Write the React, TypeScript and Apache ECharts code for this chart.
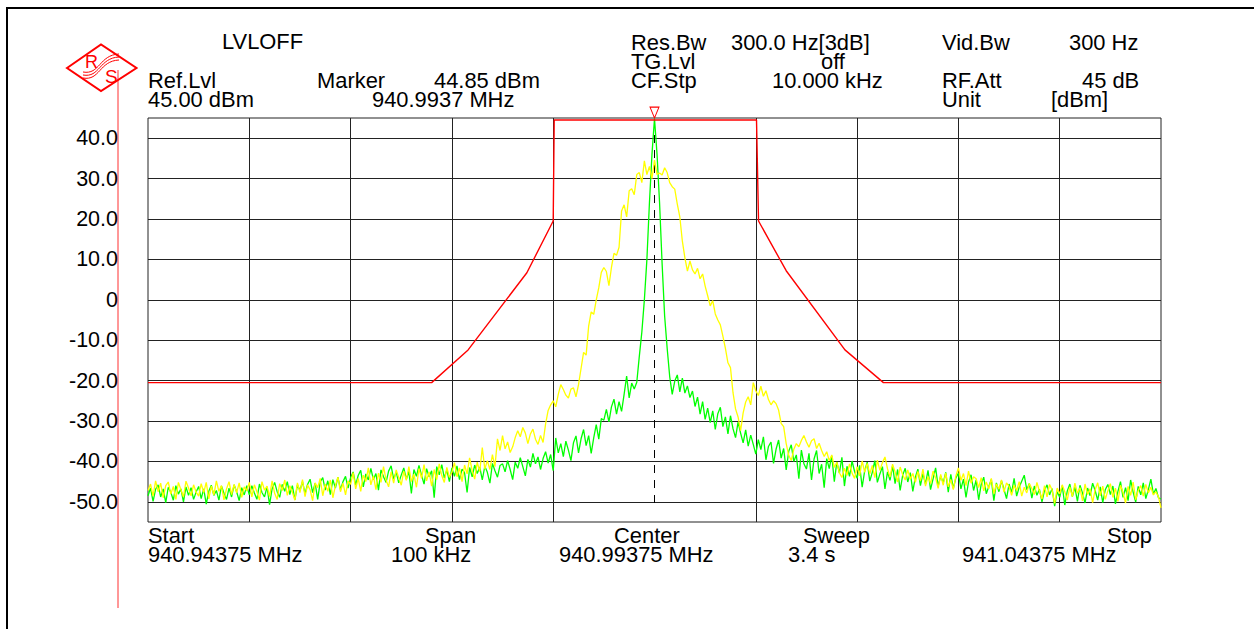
import React, { useEffect, useRef } from "react";
import * as echarts from "echarts";

const FONT = '"Liberation Sans", Arial, sans-serif';

// trace values in dBm, one row per 5 kHz, a sample every 0.25 kHz
const STEP_KHZ = 0.25;
const greenRows = [
  [-48.5,-46.6,-49.9,-46.9,-45.8,-48.8,-46.8,-50.2,-46.4,-47.6,-49.6,-46.0,-48.1,-46.8,-50.0,-46.3,-48.4,-46.5,-49.4,-47.6],
  [-46.2,-49.2,-46.8,-50.6,-47.4,-45.9,-48.4,-47.2,-49.6,-46.1,-47.9,-49.4,-46.6,-48.8,-45.8,-47.5,-49.7,-46.5,-48.3,-46.0],
  [-48.3,-46.0,-47.8,-49.4,-45.6,-47.7,-48.8,-46.3,-50.7,-46.8,-45.2,-47.5,-48.9,-45.7,-47.4,-45.0,-48.2,-46.0,-49.5,-45.8],
  [-47.2,-45.0,-48.0,-45.7,-44.4,-47.7,-45.4,-49.4,-45.1,-44.0,-47.1,-44.8,-48.2,-44.5,-46.6,-43.9,-47.0,-45.0,-43.7,-46.6],
  [-44.0,-42.6,-45.8,-43.5,-42.2,-46.3,-43.1,-44.6,-41.7,-44.5,-43.0,-47.1,-42.1,-43.8,-45.2,-42.4,-41.1,-44.4,-42.6,-45.3],
  [-43.4,-41.6,-44.4,-42.5,-47.9,-42.0,-43.7,-41.0,-43.4,-45.6,-41.8,-43.8,-42.3,-49.0,-41.3,-43.3,-40.8,-44.1,-42.1,-45.0],
  [-41.6,-43.7,-41.1,-44.5,-41.9,-42.8,-47.7,-41.5,-43.8,-40.9,-43.0,-41.4,-44.6,-41.2,-42.7,-45.4,-40.5,-42.3,-43.9,-41.0],
  [-40.6,-42.6,-39.8,-42.0,-44.5,-40.2,-41.7,-39.1,-41.3,-43.6,-39.5,-41.4,-38.0,-40.6,-38.9,-42.0,-39.3,-37.6,-40.4,-38.3],
  [-42.3,-34.2,-37.9,-35.6,-38.8,-35.0,-37.2,-39.8,-35.4,-33.7,-37.9,-34.4,-32.1,-36.1,-33.6,-38.0,-34.2,-30.9,-34.5,-29.4],
  [-29.8,-27.1,-30.2,-26.5,-24.6,-28.3,-25.2,-27.6,-23.4,-18.9,-24.3,-20.6,-22.1,-20.4,-14.0,-8.0,0.0,10.0,24.0,36.0],
  [44.85,36.0,24.0,9.0,-4.0,-12.0,-19.0,-23.4,-20.1,-18.6,-22.8,-19.4,-23.1,-21.3,-24.2,-22.6,-26.4,-24.1,-28.3,-25.2],
  [-29.6,-26.8,-30.4,-27.5,-32.1,-28.2,-26.6,-31.4,-29.0,-33.2,-28.7,-31.9,-34.1,-30.3,-33.0,-35.4,-32.2,-36.2,-33.5,-35.8],
  [-38.2,-34.6,-37.1,-33.9,-39.6,-36.3,-35.2,-40.5,-37.0,-34.7,-39.2,-36.8,-42.1,-37.5,-35.9,-40.0,-38.4,-44.3,-37.2,-40.6],
  [-41.9,-38.0,-44.6,-39.4,-37.3,-43.0,-40.7,-46.5,-39.3,-41.8,-38.6,-45.0,-40.1,-42.9,-39.0,-46.1,-41.2,-43.7,-39.9,-42.5],
  [-44.2,-41.0,-46.4,-42.3,-40.2,-44.9,-42.7,-39.8,-45.2,-43.1,-41.3,-46.8,-42.6,-44.7,-41.1,-45.5,-42.0,-47.2,-43.4,-41.7],
  [-45.1,-42.8,-47.4,-43.9,-41.9,-46.0,-43.0,-45.6,-42.2,-47.0,-44.3,-41.6,-46.2,-43.6,-45.3,-42.7,-47.6,-43.2,-46.7,-44.1],
  [-42.9,-46.8,-44.4,-48.9,-45.1,-43.3,-47.2,-44.6,-49.5,-45.7,-43.9,-48.0,-46.2,-44.5,-49.7,-45.3,-47.5,-44.8,-46.9,-49.2],
  [-45.6,-47.7,-44.2,-48.6,-46.4,-44.9,-43.4,-47.0,-45.5,-49.1,-46.1,-48.4,-46.9,-50.0,-47.2,-45.8,-48.3,-46.7,-51.1,-47.5],
  [-48.9,-46.0,-50.8,-47.3,-45.6,-48.7,-46.4,-49.9,-45.9,-47.8,-50.3,-46.6,-48.5,-45.4,-47.2,-49.6,-46.3,-50.2,-47.0,-45.7],
  [-48.2,-46.1,-50.5,-47.4,-45.0,-48.9,-46.5,-49.7,-44.6,-47.6,-50.1,-46.2,-48.3,-45.3,-49.2,-47.0,-44.4,-48.1,-46.7,-49.0],
  [-49.3],
];
const yellowRows = [
  [-47.2,-45.6,-48.6,-44.8,-47.5,-45.4,-49.0,-46.0,-45.1,-48.1,-46.2,-49.4,-45.2,-47.0,-48.8,-44.9,-46.6,-48.5,-45.8,-47.6],
  [-48.6,-45.5,-47.7,-45.2,-49.3,-46.1,-48.3,-44.8,-47.4,-46.0,-49.5,-46.8,-45.0,-48.2,-45.7,-47.8,-45.3,-48.9,-46.3,-47.3],
  [-45.2,-48.8,-45.8,-47.5,-49.6,-45.0,-47.1,-46.1,-48.7,-44.8,-47.9,-49.4,-45.5,-47.2,-44.6,-48.4,-46.0,-47.6,-49.6,-45.3],
  [-47.7,-44.5,-48.7,-45.8,-47.0,-49.7,-45.3,-46.5,-44.2,-48.5,-45.6,-47.4,-44.6,-49.0,-46.0,-43.9,-47.5,-45.4,-48.3,-44.8],
  [-45.7,-42.8,-46.8,-44.2,-47.4,-43.4,-45.0,-41.6,-45.8,-43.6,-47.0,-42.9,-45.2,-41.3,-44.6,-46.3,-42.6,-45.4,-42.1,-44.0],
  [-45.9,-42.4,-44.7,-41.3,-45.0,-43.2,-46.4,-41.8,-44.2,-40.8,-44.8,-42.6,-46.1,-42.0,-44.5,-40.6,-43.5,-45.2,-41.5,-43.9],
  [-42.7,-40.3,-43.8,-41.6,-45.0,-40.9,-43.1,-39.1,-42.3,-44.4,-40.2,-42.5,-36.6,-41.9,-39.8,-42.0,-38.3,-41.3,-34.4,-37.3],
  [-33.6,-36.9,-35.2,-37.8,-36.4,-34.1,-32.4,-33.9,-31.6,-33.0,-35.6,-33.2,-32.0,-34.5,-35.8,-33.6,-35.3,-30.7,-27.4,-26.0],
  [-25.0,-26.5,-23.4,-21.0,-22.2,-23.6,-24.3,-22.1,-21.8,-24.0,-21.0,-17.0,-13.0,-13.7,-6.5,-3.0,-3.6,0.0,3.0,6.8],
  [8.0,7.0,3.5,8.0,11.5,11.0,13.0,22.0,23.5,20.5,27.0,27.5,26.0,31.0,31.5,29.0,34.4,31.0,33.0,30.0],
  [34.6,31.0,31.4,30.9,32.7,31.5,29.0,28.0,27.4,23.7,20.5,14.5,10.4,7.1,9.6,7.4,6.4,7.8,5.2,6.4],
  [3.4,1.0,-1.5,-0.2,-3.5,-5.0,-6.2,-9.0,-12.0,-15.6,-16.8,-23.0,-27.0,-29.0,-32.4,-28.0,-25.3,-24.0,-26.0,-20.5],
  [-22.5,-23.7,-21.4,-23.9,-22.5,-24.7,-26.0,-25.0,-25.7,-27.3,-30.6,-31.4,-35.6,-38.5,-39.8,-37.0,-35.6,-36.4,-34.8,-33.6],
  [-35.2,-36.5,-34.9,-34.4,-36.8,-35.5,-37.3,-38.8,-37.6,-39.8,-38.4,-41.5,-40.2,-42.8,-44.0,-41.7,-43.5,-40.6,-42.9,-44.2],
  [-41.3,-43.6,-39.9,-42.7,-40.5,-43.1,-41.0,-44.0,-39.7,-42.2,-40.3,-38.9,-41.8,-43.9,-40.7,-42.6,-45.1,-41.4,-43.3,-44.6],
  [-42.1,-44.4,-43.0,-45.2,-42.5,-44.8,-41.9,-46.1,-43.7,-45.5,-42.4,-44.1,-46.7,-43.2,-45.9,-42.9,-46.3,-44.5,-47.0,-43.6],
  [-41.6,-44.7,-43.0,-46.0,-42.4,-45.4,-43.8,-44.3,-46.5,-44.0,-47.3,-45.1,-46.8,-44.2,-48.0,-45.6,-46.9,-44.6,-47.6,-45.3],
  [-46.2,-48.4,-45.9,-47.2,-45.0,-48.6,-46.4,-47.8,-45.5,-46.7,-48.2,-45.2,-47.4,-49.3,-46.0,-48.8,-45.7,-47.1,-50.4,-46.6],
  [-48.1,-45.8,-47.5,-49.6,-46.3,-48.7,-45.4,-47.9,-46.5,-49.8,-45.6,-48.2,-46.8,-50.2,-47.0,-45.3,-48.5,-46.1,-49.4,-47.3],
  [-45.5,-48.9,-46.6,-49.9,-45.9,-47.7,-50.3,-46.2,-48.4,-45.1,-49.5,-47.2,-46.0,-48.6,-45.7,-47.8,-46.4,-48.3,-47.5,-48.8],
  [-51.5],
];
const maskKHz = [0, 28, 31.6, 37.4, 40, 40.1, 60.07, 60.27, 63, 68.8, 72.6, 100];
const maskDbm = [-20.5, -20.5, -12.4, 6.7, 19.5, 44.5, 44.5, 19.5, 7.2, -12.4, -20.5, -20.5];

const yTicks = [-50, -40, -30, -20, -10, 0, 10, 20, 30, 40];
// no solid grid line at the centre: the dashed marker line stands there
const xGridKHz = [10, 20, 30, 40, 60, 70, 80, 90];
const marker = { kHz: 50, dbm: 44.85 };
const centerLine = [[50, 44.5], [50, -51]];

const labels: [string, number, number][] = [
  ["LVLOFF", 222, 41],
  ["Ref.Lvl", 148, 80], ["45.00 dBm", 148, 99],
  ["Marker", 317, 80], ["44.85 dBm", 434, 80], ["940.9937 MHz", 372, 99],
  ["Res.Bw", 631, 42], ["300.0 Hz[3dB]", 731, 42],
  ["TG.Lvl", 631, 61], ["off", 821, 61],
  ["CF.Stp", 631, 80], ["10.000 kHz", 772, 80],
  ["Vid.Bw", 942, 42], ["300 Hz", 1069, 42],
  ["RF.Att", 942, 80], ["45 dB", 1082, 80],
  ["Unit", 942, 99], ["[dBm]", 1051, 99],
  ["Start", 148, 535], ["940.94375 MHz", 148, 554],
  ["Span", 425, 535], ["100 kHz", 391, 554],
  ["Center", 614, 535], ["940.99375 MHz", 559, 554],
  ["Sweep", 803, 535], ["3.4 s", 788, 554],
  ["Stop", 1107, 535], ["941.04375 MHz", 962, 554],
];

const toPairs = (rows: number[][]) =>
  rows.flat().map((v, i) => [i * STEP_KHZ, v]);

const RED = "#ff0000";

function wave(dy: number) {
  return {
    type: "bezierCurve",
    shape: {
      x1: 83, y1: 75 + dy,
      cpx1: 100, cpy1: 78 + dy,
      cpx2: 99, cpy2: 58 + dy,
      x2: 119, y2: 57 + dy,
    },
    style: { stroke: RED, lineWidth: 1, fill: "none" },
    silent: true,
  };
}

export default function App() {
  const ref = useRef<HTMLDivElement>(null);
  useEffect(() => {
    document.body.style.margin = "0";
    const chart = echarts.init(ref.current!, undefined, { renderer: "svg" });
    chart.setOption({
      animation: false,
      backgroundColor: "#ffffff",
      grid: {
        left: 148, right: 93, top: 118, bottom: 107,
        show: true, borderColor: "#222", borderWidth: 1, containLabel: false,
      },
      xAxis: {
        type: "value", min: 0, max: 100,
        axisLabel: { show: false }, axisLine: { show: false },
        axisTick: { show: false, customValues: xGridKHz },
        splitLine: { show: true, lineStyle: { color: "#222", width: 1 } },
      },
      yAxis: {
        type: "value", min: -55, max: 45,
        axisLine: { show: false },
        axisTick: { show: false, customValues: yTicks },
        axisLabel: {
          customValues: yTicks, margin: 30, color: "#000",
          fontFamily: FONT, fontSize: 21.5,
          formatter: (v: number) => (v === 0 ? "0" : v.toFixed(1)),
        },
        splitLine: { show: true, lineStyle: { color: "#222", width: 1 } },
      },
      series: [
        {
          type: "line", silent: true, showSymbol: false, z: 2,
          data: centerLine,
          lineStyle: { color: "#000", width: 1, type: [8, 7] },
        },
        {
          type: "line", silent: true, showSymbol: false, z: 3,
          data: toPairs(greenRows),
          lineStyle: { color: "#00ff00", width: 1.3 },
          markPoint: {
            silent: true,
            symbol: "triangle", symbolRotate: 180, symbolSize: [9, 11], symbolOffset: [0, -6],
            itemStyle: { color: "transparent", borderColor: RED, borderWidth: 1 },
            label: { show: false },
            data: [{ coord: [marker.kHz, marker.dbm] }],
          },
        },
        {
          type: "line", silent: true, showSymbol: false, z: 4,
          data: toPairs(yellowRows),
          lineStyle: { color: "#ffff00", width: 1.3 },
        },
        {
          type: "line", silent: true, showSymbol: false, z: 5,
          data: maskKHz.map((x, i) => [x, maskDbm[i]]),
          lineStyle: { color: RED, width: 1.4 },
        },
      ],
      graphic: [
        { type: "rect", shape: { x: 6, y: 7, width: 1248, height: 2 }, style: { fill: "#000" }, silent: true },
        { type: "rect", shape: { x: 6, y: 7, width: 2, height: 622 }, style: { fill: "#000" }, silent: true },
        { type: "line", shape: { x1: 118, y1: 70, x2: 118, y2: 608 }, style: { stroke: "#ff3030", lineWidth: 1 }, silent: true },
        {
          type: "polygon",
          shape: { points: [[67, 68], [101, 44.5], [136.5, 68], [101, 91]] },
          style: { stroke: RED, lineWidth: 2, fill: "none" },
          silent: true,
        },
        wave(-3), wave(0), wave(3),
        { type: "text", x: 85, y: 62, style: { text: "R", fontFamily: FONT, fontSize: 18, fill: RED, verticalAlign: "middle" }, silent: true },
        { type: "text", x: 105, y: 76, style: { text: "S", fontFamily: FONT, fontSize: 19, fill: RED, verticalAlign: "middle" }, silent: true },
        ...labels.map(([text, x, y]) => ({
          type: "text", x, y,
          style: { text, fontFamily: FONT, fontSize: 21.9, fill: "#000", verticalAlign: "middle", align: "left" },
          silent: true,
        })),
      ],
    });
    return () => chart.dispose();
  }, []);
  return <div ref={ref} style={{ width: 1254, height: 629 }} />;
}
